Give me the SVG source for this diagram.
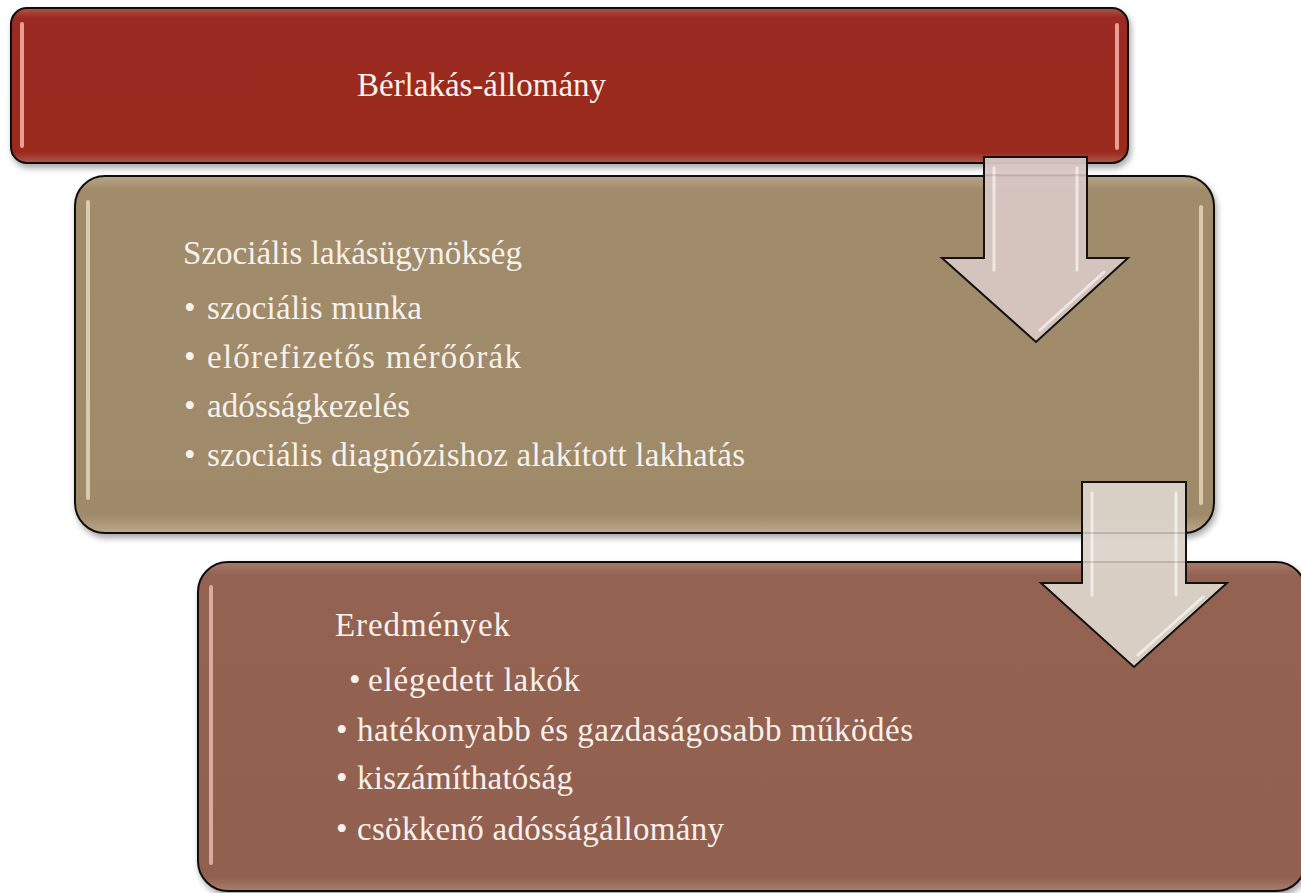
<svg xmlns="http://www.w3.org/2000/svg" width="1301" height="893" viewBox="0 0 1301 893">
<defs>
<filter id="sh" x="-5%" y="-5%" width="110%" height="115%">
<feDropShadow dx="2" dy="4" stdDeviation="3" flood-color="#000" flood-opacity="0.35"/>
</filter>
<linearGradient id="g1" x1="0" y1="0" x2="0" y2="1">
<stop offset="0" stop-color="#b2564b"/><stop offset="0.06" stop-color="#9a2b20"/><stop offset="0.93" stop-color="#992a1f"/><stop offset="1" stop-color="#b0584c"/>
</linearGradient>
<linearGradient id="g2" x1="0" y1="0" x2="0" y2="1">
<stop offset="0" stop-color="#b8a487"/><stop offset="0.04" stop-color="#a08b6a"/><stop offset="0.95" stop-color="#9f8a69"/><stop offset="1" stop-color="#bba98e"/>
</linearGradient>
<linearGradient id="g3" x1="0" y1="0" x2="0" y2="1">
<stop offset="0" stop-color="#a97a6a"/><stop offset="0.04" stop-color="#936251"/><stop offset="0.96" stop-color="#926150"/><stop offset="1" stop-color="#aa7e6f"/>
</linearGradient>
<style>
.box{stroke:#111;stroke-width:2}
.t{font-family:"Liberation Serif","DejaVu Serif",serif;font-size:33px;fill:#f7f1ec}
.arrow{stroke:#111;stroke-width:2;stroke-linejoin:miter}
.bev{stroke:#fff;stroke-width:3;opacity:0.6;fill:none;stroke-linecap:round}
</style>
</defs>

<g id="node-berlakas">
<rect class="box" x="11" y="8" width="1117" height="155" rx="16" fill="url(#g1)" filter="url(#sh)"/>
<rect x="20" y="22" width="4" height="126" rx="2" fill="#f7b3a6" opacity="0.85"/>
<rect x="1115" y="23" width="4" height="127" rx="2" fill="#f7b3a6" opacity="0.85"/>
<text class="t" x="357" y="96" textLength="249" lengthAdjust="spacing">Bérlakás-állomány</text>
</g>

<g id="node-szocialis">
<rect class="box" x="75" y="176" width="1139" height="357" rx="30" fill="url(#g2)" filter="url(#sh)"/>
<rect x="86" y="200" width="4" height="300" rx="2" fill="#f3e6c8" opacity="0.7"/>
<rect x="1199" y="205" width="4" height="300" rx="2" fill="#f3e6c8" opacity="0.7"/>
<text class="t" x="183" y="264" textLength="339" lengthAdjust="spacing">Szociális lakásügynökség</text>
<text class="t" x="184" y="319">•</text><text class="t" x="207" y="319" textLength="215" lengthAdjust="spacing">szociális munka</text>
<text class="t" x="184" y="368">•</text><text class="t" x="207" y="368" textLength="314" lengthAdjust="spacing">előrefizetős mérőórák</text>
<text class="t" x="184" y="417">•</text><text class="t" x="207" y="417" textLength="203" lengthAdjust="spacing">adósságkezelés</text>
<text class="t" x="184" y="466">•</text><text class="t" x="207" y="466" textLength="538" lengthAdjust="spacing">szociális diagnózishoz alakított lakhatás</text>
</g>

<g id="node-eredmenyek">
<rect class="box" x="198" y="562" width="1108" height="329" rx="30" fill="url(#g3)" filter="url(#sh)"/>
<rect x="209" y="585" width="4" height="280" rx="2" fill="#f6cdbf" opacity="0.7"/>
<text class="t" x="335" y="636" textLength="175" lengthAdjust="spacing">Eredmények</text>
<text class="t" x="349" y="691">•</text><text class="t" x="368" y="691" textLength="212" lengthAdjust="spacing">elégedett lakók</text>
<text class="t" x="336" y="741">•</text><text class="t" x="357" y="741" textLength="556" lengthAdjust="spacing">hatékonyabb és gazdaságosabb működés</text>
<text class="t" x="336" y="789">•</text><text class="t" x="357" y="789" textLength="216" lengthAdjust="spacing">kiszámíthatóság</text>
<text class="t" x="336" y="840">•</text><text class="t" x="357" y="840" textLength="367" lengthAdjust="spacing">csökkenő adósságállomány</text>
</g>

<g id="connectors">
<g id="arrow1">
<polygon class="arrow" points="984,157 1087,157 1087,258 1128,258 1036,342 942,258 984,258" fill="#d8c6c3" fill-opacity="0.95"/>
<path class="bev" d="M994,168 V270 M1077,168 V270 M1104,272 L1040,330"/>
<line x1="985" y1="175" x2="1086" y2="175" stroke="#9a8582" stroke-width="1" opacity="0.5"/>
</g>
<g id="arrow2">
<polygon class="arrow" points="1082,482 1186,482 1186,583 1227,583 1134,667 1041,583 1082,583" fill="#dcd4ca" fill-opacity="0.95"/>
<path class="bev" d="M1092,493 V595 M1176,493 V595 M1203,597 L1138,655"/>
<line x1="1083" y1="533" x2="1185" y2="533" stroke="#8f877d" stroke-width="1" opacity="0.6"/>
<line x1="1083" y1="562" x2="1185" y2="562" stroke="#8f877d" stroke-width="1" opacity="0.6"/>
</g>
</g>
</svg>
